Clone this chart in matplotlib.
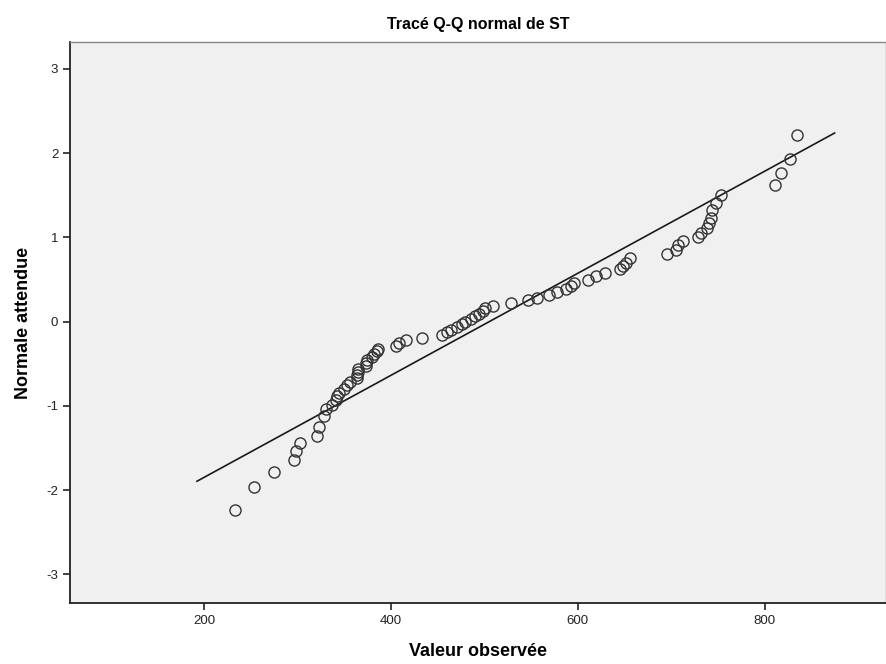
import matplotlib.pyplot as plt

plt.rcParams['font.family'] = ['Liberation Sans', 'DejaVu Sans']
plt.rcParams['axes.unicode_minus'] = False

valeur_observee = [
    232.5, 253.6, 275.0, 296.0, 298.0, 302.0, 320.7, 323.0, 327.8, 330.0,
    337.0, 341.0, 342.0, 344.0, 350.0, 353.0, 355.4, 363.0, 363.6, 364.0,
    364.3, 372.8, 373.5, 374.3, 380.0, 382.0, 385.0, 386.0, 405.7, 408.2,
    416.4, 433.0, 454.7, 460.0, 463.6, 470.7, 476.0, 479.6, 485.0, 489.3,
    493.9, 498.6, 501.0, 509.3, 528.6, 546.8, 555.7, 568.9, 577.8, 587.5,
    592.8, 595.7, 610.7, 619.7, 628.6, 644.6, 648.2, 651.8, 655.4, 695.7,
    705.4, 707.5, 712.5, 728.6, 732.3, 738.7, 740.4, 742.2, 744.0, 747.5,
    752.9, 810.8, 818.0, 826.8, 834.3,
]
normale_attendue = [
    -2.241, -1.960, -1.780, -1.645, -1.534, -1.440, -1.356, -1.247, -1.120, -1.036,
    -0.984, -0.935, -0.887, -0.842, -0.798, -0.755, -0.714, -0.674, -0.636, -0.598,
    -0.561, -0.524, -0.489, -0.454, -0.419, -0.385, -0.352, -0.319, -0.286, -0.253,
    -0.221, -0.189, -0.157, -0.126, -0.094, -0.063, -0.031, 0.000, 0.031, 0.063,
    0.094, 0.126, 0.157, 0.189, 0.221, 0.253, 0.286, 0.319, 0.352, 0.385,
    0.419, 0.454, 0.489, 0.540, 0.580, 0.620, 0.660, 0.700, 0.760, 0.800,
    0.850, 0.910, 0.960, 1.000, 1.050, 1.110, 1.170, 1.230, 1.320, 1.410,
    1.500, 1.620, 1.760, 1.930, 2.215,
]

# droite de référence : moyenne et écart-type
moyenne = 505.0
ecart_type = 165.2
droite_x = [192.0, 875.0]

fig = plt.figure(figsize=(8.87, 6.64), dpi=100)
ax = fig.add_axes([70 / 887, 61 / 664, 816 / 887, 561 / 664])
ax.set_facecolor('#f0f0f0')

droite_y = [(x - moyenne) / ecart_type for x in droite_x]
ax.plot(droite_x, droite_y, color='#1a1a1a', linewidth=1.2, zorder=2)
ax.plot(valeur_observee, normale_attendue, linestyle='none', marker='o',
        markersize=8, markerfacecolor='none', markeredgecolor='#333333',
        markeredgewidth=1.0, zorder=3)

ax.set_xlim(56, 930)
ax.set_ylim(-3.34, 3.32)
ax.set_xticks([200, 400, 600, 800])
ax.set_yticks([-3, -2, -1, 0, 1, 2, 3])

for cote in ['left', 'bottom']:
    ax.spines[cote].set_color('#222222')
    ax.spines[cote].set_linewidth(1.3)
for cote in ['top', 'right']:
    ax.spines[cote].set_color('#888888')
    ax.spines[cote].set_linewidth(1.0)

ax.tick_params(direction='out', length=5, width=1.2, color='#222222',
               labelsize=9.5, labelcolor='#222222')

ax.set_title('Tracé Q-Q normal de ST', fontsize=11.5, fontweight='bold', pad=9)
ax.set_xlabel('Valeur observée', fontsize=13, fontweight='bold', labelpad=12)
ax.set_ylabel('Normale attendue', fontsize=13, fontweight='bold', labelpad=10)

fig.savefig('out.png', dpi=100)
